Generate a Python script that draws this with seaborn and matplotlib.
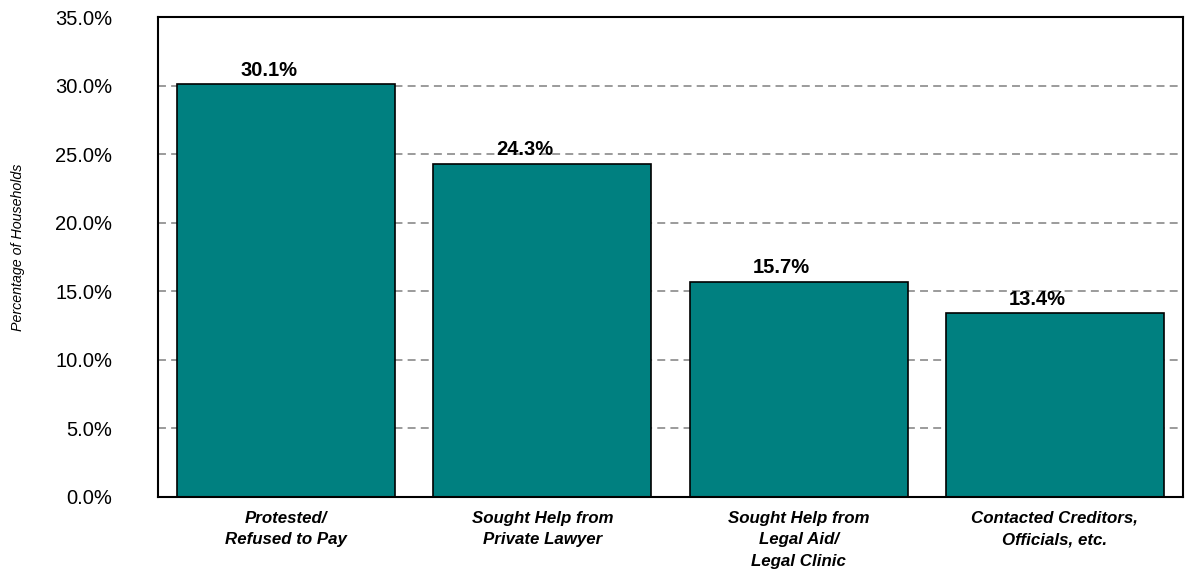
import matplotlib
matplotlib.use("Agg")
import matplotlib.pyplot as plt
import seaborn as sns
import pandas as pd
from matplotlib.ticker import FuncFormatter

categories = [
    "Protested/\nRefused to Pay",
    "Sought Help from\nPrivate Lawyer",
    "Sought Help from\nLegal Aid/\nLegal Clinic",
    "Contacted Creditors,\nOfficials, etc.",
]
values = [30.1, 24.3, 15.7, 13.4]
y_ticks = [0, 5, 10, 15, 20, 25, 30, 35]

sns.set_theme(style="white")
plt.rcParams["font.family"] = ["Liberation Sans", "DejaVu Sans"]

df = pd.DataFrame({"category": categories, "value": values})

fig = plt.figure(figsize=(11.9, 5.71), dpi=100)
ax = fig.add_axes([0.1328, 0.1296, 0.8613, 0.8406])

# dashed horizontal guides behind the bars
for y in y_ticks[1:-1]:
    ax.axhline(y, color="#808080", linestyle=(0, (5.2, 3.4)), linewidth=1.1, zorder=0)

sns.barplot(data=df, x="category", y="value", color="#008080", saturation=1,
            edgecolor="black", linewidth=1.2, width=0.85, ax=ax, zorder=2)

# value labels, set a little left of each bar's centre
for i, v in enumerate(values):
    ax.annotate(f"{v:.1f}%", xy=(i, v), xytext=(-12.5, 3.2),
                textcoords="offset points", ha="center", va="bottom",
                fontsize=14.5, fontweight="bold", color="black", zorder=3)

ax.set_ylim(0, 35)
ax.set_yticks(y_ticks)
ax.yaxis.set_major_formatter(FuncFormatter(lambda v, p: f"{v:.1f}%"))
ax.tick_params(axis="y", length=0, pad=33, labelsize=14.5, labelcolor="black")
ax.tick_params(axis="x", length=0, pad=10)
for lbl in ax.get_xticklabels():
    lbl.set_fontsize(12.2)
    lbl.set_fontweight("bold")
    lbl.set_fontstyle("italic")
    lbl.set_linespacing(1.55)
    lbl.set_verticalalignment("top")
    lbl.set_color("black")

ax.set_xlabel("")
ax.set_ylabel("Percentage of Households", fontsize=10.3, fontstyle="italic",
              color="black", labelpad=0)
ax.yaxis.set_label_coords(-0.1298, 0.52)

for s in ax.spines.values():
    s.set_visible(True)
    s.set_color("black")
    s.set_linewidth(1.5)

fig.savefig("out.png", dpi=100, facecolor="white")
